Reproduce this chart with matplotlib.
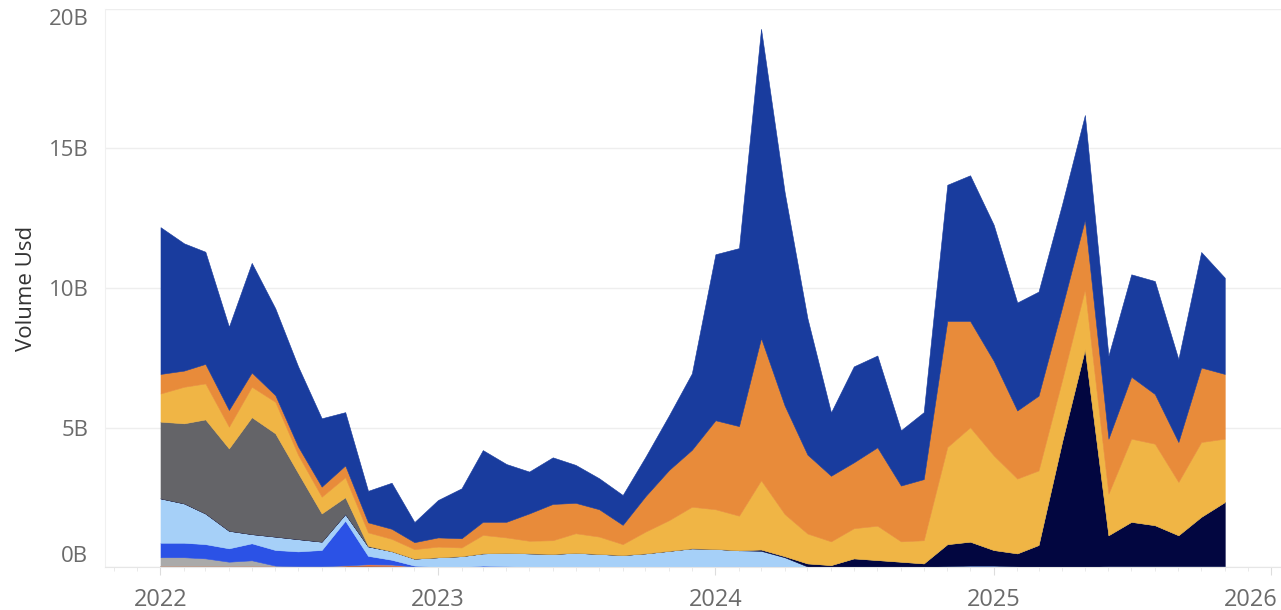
import matplotlib
matplotlib.use("Agg")
import matplotlib.pyplot as plt
import matplotlib.dates as mdates
import matplotlib.transforms as mtransforms
import numpy as np

plt.rcParams["font.family"] = ["Open Sans", "DejaVu Sans"]

# ── monthly volume, billions USD, Jan 2022 .. Nov 2025 ──
months = np.arange("2022-01", "2025-12", dtype="datetime64[M]").astype("datetime64[D]")

black_small = [0.04, 0.04, 0.04, 0.04, 0.04, 0.04, 0.03, 0.03, 0.04, 0.04, 0.03, 0.01,
               0, 0, 0, 0, 0, 0, 0, 0, 0, 0, 0, 0,
               0, 0, 0, 0, 0, 0, 0, 0, 0, 0, 0, 0,
               0, 0, 0, 0, 0, 0, 0, 0, 0, 0, 0]
red_small = [0, 0, 0, 0, 0, 0, 0, 0, 0.02, 0.06, 0.06, 0.01,
             0, 0, 0, 0, 0, 0, 0, 0, 0, 0, 0, 0,
             0, 0, 0, 0, 0, 0, 0, 0, 0, 0, 0, 0,
             0, 0, 0, 0, 0, 0, 0, 0, 0, 0, 0]
light_gray = [0.31, 0.31, 0.27, 0.15, 0.2, 0.01, 0, 0, 0, 0, 0, 0,
              0, 0, 0, 0, 0, 0, 0, 0, 0, 0, 0, 0,
              0, 0, 0, 0, 0, 0, 0, 0, 0, 0, 0, 0,
              0, 0, 0, 0, 0, 0, 0, 0, 0, 0, 0]
royal_blue = [0.52, 0.52, 0.51, 0.48, 0.61, 0.56, 0.53, 0.58, 1.6, 0.3, 0.17, 0.03,
              0, 0, 0.05, 0.03, 0, 0, 0, 0, 0, 0, 0, 0,
              0.02, 0.02, 0.02, 0.02, 0, 0, 0, 0, 0, 0, 0.03, 0.05,
              0.05, 0.02, 0, 0, 0, 0, 0, 0, 0, 0, 0]
light_blue = [1.59, 1.41, 1.1, 0.63, 0.33, 0.48, 0.44, 0.3, 0.24, 0.34, 0.31, 0.25,
              0.35, 0.39, 0.44, 0.48, 0.49, 0.47, 0.51, 0.47, 0.43, 0.49, 0.58, 0.67,
              0.63, 0.58, 0.56, 0.33, 0.02, 0, 0, 0, 0, 0, 0, 0,
              0, 0, 0, 0, 0, 0.03, 0.03, 0.03, 0.03, 0.03, 0.03]
navy = [0, 0, 0, 0, 0, 0, 0, 0, 0, 0, 0, 0,
        0, 0, 0, 0, 0, 0, 0, 0, 0, 0, 0, 0,
        0, 0, 0.05, 0.04, 0.11, 0.07, 0.31, 0.25, 0.19, 0.13, 0.79, 0.86,
        0.56, 0.47, 0.79, 4.5, 7.81, 1.11, 1.59, 1.47, 1.11, 1.77, 2.3]
dark_gray = [2.75, 2.87, 3.37, 2.95, 4.19, 3.7, 2.37, 1.01, 0.6, 0.02, 0, 0,
             0, 0, 0, 0, 0, 0, 0, 0, 0, 0, 0, 0,
             0, 0, 0, 0, 0, 0, 0, 0, 0, 0, 0, 0,
             0, 0, 0, 0, 0, 0, 0, 0, 0, 0, 0]
yellow = [1.01, 1.31, 1.29, 0.78, 1.09, 1.13, 0.65, 0.6, 0.72, 0.48, 0.44, 0.34,
          0.38, 0.31, 0.66, 0.55, 0.45, 0.49, 0.7, 0.62, 0.39, 0.78, 1.1, 1.49,
          1.42, 1.24, 2.48, 1.51, 1.07, 0.85, 1.08, 1.23, 0.73, 0.83, 3.48, 4.1,
          3.39, 2.68, 2.67, 2.2, 2.14, 1.49, 2.98, 2.92, 1.91, 2.68, 2.27]
orange = [0.7, 0.58, 0.7, 0.6, 0.51, 0.24, 0.3, 0.36, 0.42, 0.36, 0.36, 0.25,
          0.33, 0.33, 0.47, 0.56, 0.98, 1.3, 1.09, 0.98, 0.69, 1.27, 1.8, 2.04,
          3.19, 3.21, 5.1, 3.89, 2.83, 2.35, 2.36, 2.81, 2.0, 2.19, 4.52, 3.81,
          3.39, 2.44, 2.68, 2.6, 2.5, 1.97, 2.22, 1.78, 1.43, 2.67, 2.32]
dark_blue = [5.26, 4.56, 4.02, 2.98, 3.93, 3.11, 2.87, 2.45, 1.91, 1.13, 1.65, 0.72,
             1.34, 1.79, 2.57, 2.07, 1.5, 1.67, 1.36, 1.11, 1.07, 1.41, 1.96, 2.74,
             5.95, 6.38, 11.08, 7.65, 4.89, 2.27, 3.44, 3.29, 1.98, 2.4, 4.88, 5.22,
             4.88, 3.87, 3.73, 3.7, 3.75, 2.97, 3.67, 4.05, 2.97, 4.14, 3.45]

series = [black_small, red_small, light_gray, royal_blue, light_blue, navy,
          dark_gray, yellow, orange, dark_blue]
colors = ["#1a1a1a", "#e8784a", "#aaaaaa", "#2b52e6", "#a6d0f8", "#020640",
          "#646468", "#f0b545", "#e88b3a", "#193c9e"]

TEXT = "#6b6b6b"

fig = plt.figure(figsize=(12.81, 6.10), dpi=100)
ax = fig.add_axes([105 / 1281, 1 - 567 / 610, 1 - 105 / 1281, (567 - 9) / 610])

polys = ax.stackplot(months, *series, colors=colors, linewidth=0.4)
for p, c in zip(polys, colors):
    p.set_edgecolor(c)

ax.set_ylim(0, 20)
ax.set_xlim(np.datetime64("2021-10-20"), np.datetime64("2026-01-14"))

ax.set_yticks([0, 5, 10, 15, 20])
ax.set_yticklabels(["0B", "5B", "10B", "15B", "20B"])
ax.tick_params(axis="y", length=0, pad=12, labelsize=16, labelcolor=TEXT)
ylabels = ax.get_yticklabels()
ylabels[0].set_va("bottom")
ylabels[-1].set_va("top")

ax.xaxis.set_major_locator(mdates.YearLocator())
ax.xaxis.set_major_formatter(mdates.DateFormatter("%Y"))
ax.xaxis.set_minor_locator(mdates.MonthLocator())
ax.tick_params(axis="x", which="major", length=6, color="#dddddd", pad=9,
               labelsize=17, labelcolor=TEXT)
ax.tick_params(axis="x", which="minor", length=3, color="#e6e6e6")

# last year label pinned inside the figure edge
fig.canvas.draw()
last = ax.get_xticklabels()[-1]
last.set_ha("right")
last.set_transform(last.get_transform() + mtransforms.ScaledTranslation(7 / 100, 0, fig.dpi_scale_trans))

ax.set_ylabel("Volume Usd", fontsize=16, color="#333333", labelpad=8)

ax.grid(axis="y", color="#eeeeee", linewidth=1)
ax.set_axisbelow(True)
for side in ["top", "right"]:
    ax.spines[side].set_visible(False)
ax.spines["left"].set_color("#f0f0f0")
ax.spines["bottom"].set_color("#e6e6e6")

fig.savefig("out.png", dpi=100)
